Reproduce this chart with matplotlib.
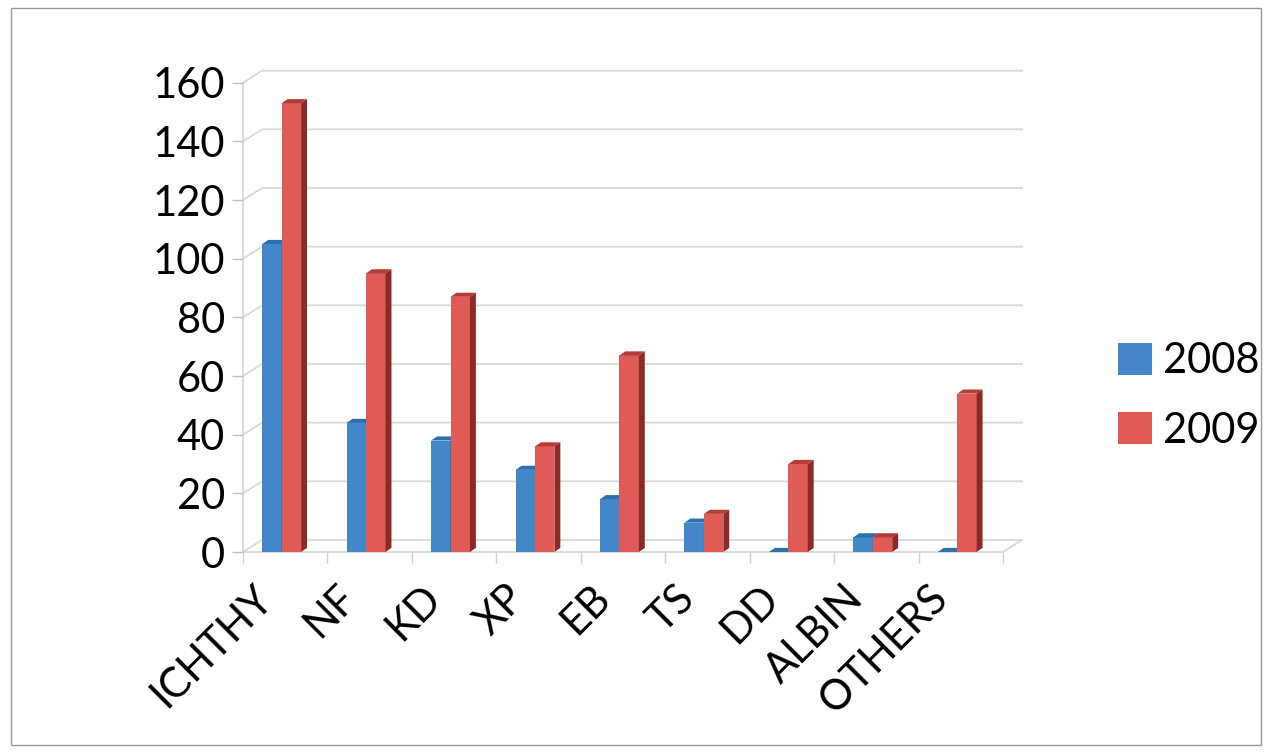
import matplotlib
matplotlib.use('Agg')
import matplotlib.pyplot as plt
from matplotlib.patches import Polygon, Rectangle, Patch

categories = ['ICHTHY', 'NF', 'KD', 'XP', 'EB', 'TS', 'DD', 'ALBIN', 'OTHERS']
y2008 = [105, 44, 38, 28, 18, 10, 0, 5, 0]
y2009 = [153, 95, 87, 36, 67, 13, 30, 5, 54]
series_names = ['2008', '2009']
yticks = [0, 20, 40, 60, 80, 100, 120, 140, 160]

plt.rcParams['font.family'] = ['Lato', 'DejaVu Sans']

# colours: front, top, side
blue = ('#4387C9', '#2E6FAE', '#2B5F95')
red = ('#E05A56', '#B53B37', '#8C2A27')

fig = plt.figure(figsize=(12.65, 7.56), dpi=100)
fig.patches.append(Rectangle((11 / 1265, 1 - 745 / 756), 1250 / 1265, 737 / 756,
                             transform=fig.transFigure, fill=False,
                             edgecolor='#9a9a9a', linewidth=1))

ax = fig.add_axes([243 / 1265, 1 - 552 / 756, 760 / 1265, (552 - 82.7) / 756])
ax.set_xlim(-0.5, len(categories) - 0.5)
ax.set_ylim(0, 160)
for s in ax.spines.values():
    s.set_visible(False)

# back wall / floor of the fake 3d box
bx, by = 0.225, 4.1
right = len(categories) - 0.5
gridc = '#d9d9d9'
for t in yticks:
    ax.plot([-0.5, -0.5 + bx, right + bx], [t, t + by, t + by],
            color=gridc, linewidth=1.3, clip_on=False, zorder=0)
ax.plot([-0.5, -0.5], [0, 160], color=gridc, linewidth=1.3, clip_on=False, zorder=0)
ax.plot([-0.5, right, right + bx], [0, 0, by], color=gridc, linewidth=1.3,
        clip_on=False, zorder=0)

w = 0.23
dx, dy = 0.07, 1.4


def bar3d(xc, v, cols, z):
    xl, xr = xc - w / 2, xc + w / 2
    ax.bar(xc, v, width=w, color=cols[0], linewidth=0, zorder=z)
    ax.add_patch(Polygon([(xl, v), (xl + dx, v + dy), (xr + dx, v + dy), (xr, v)],
                         closed=True, facecolor=cols[1], linewidth=0, zorder=z))
    ax.add_patch(Polygon([(xr, 0), (xr + dx, dy), (xr + dx, v + dy), (xr, v)],
                         closed=True, facecolor=cols[2], linewidth=0, zorder=z))


for i in range(len(categories)):
    bar3d(i - 0.157, y2008[i], blue, 2 + i * 2)
    bar3d(i + 0.073, y2009[i], red, 3 + i * 2)

ax.set_yticks(yticks)
ax.tick_params(axis='y', length=8, width=1, color='#bfbfbf', pad=5, labelsize=30)
ax.set_xticks([k - 0.5 for k in range(len(categories) + 1)])
ax.set_xticklabels([])
ax.tick_params(axis='x', length=8, width=1, color='#d0d0d0')

for i, c in enumerate(categories):
    ax.annotate(c, xy=(i - 0.39, 0), xycoords=('data', 'axes fraction'),
                xytext=(0, -19), textcoords='offset points',
                rotation=45, rotation_mode='anchor', ha='right', va='top',
                fontsize=30, annotation_clip=False)

handles = [Patch(facecolor=blue[0]), Patch(facecolor=red[0])]
fig.legend(handles, series_names, loc='center left',
           bbox_to_anchor=(1118 / 1265, 1 - 396 / 756), frameon=False,
           fontsize=30, handlelength=0.82, handleheight=0.82,
           handletextpad=0.25, labelspacing=0.75, borderpad=0, borderaxespad=0)

fig.savefig('out.png', dpi=100)
